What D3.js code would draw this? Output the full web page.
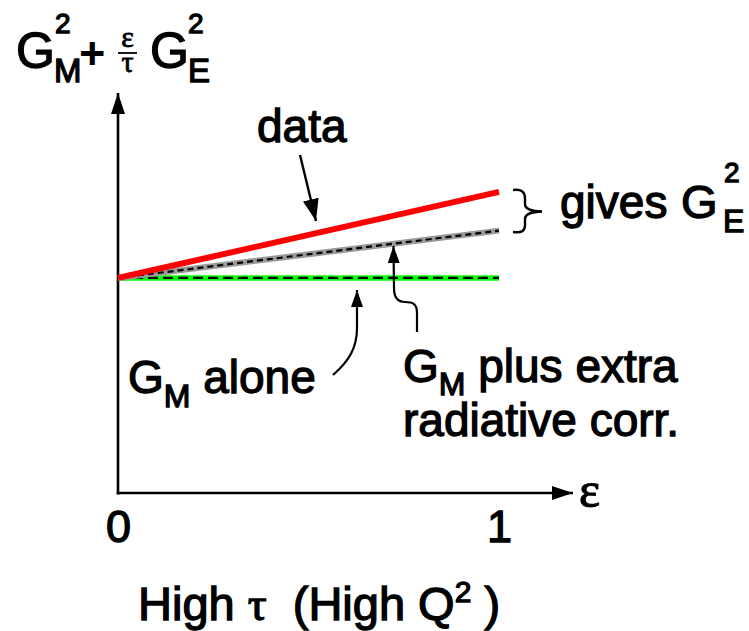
<!DOCTYPE html>
<html>
<head>
<meta charset="utf-8">
<script src="https://cdn.jsdelivr.net/npm/d3@7"></script>
<style>
  html, body { margin: 0; padding: 0; background: #fff; }
  svg { display: block; }
  .lbl { font-family: "Liberation Sans", Arial, sans-serif; font-weight: normal; fill: #000; stroke: #000; stroke-width: 1.3px; }
  .sym { font-family: "Liberation Serif", "Times New Roman", serif; fill: #000; stroke: #000; stroke-width: 0.8px; }
</style>
</head>
<body>
<svg id="chart" width="749" height="631"></svg>
<script>
// epsilon values at the two ends of each line
const eps = [0, 1];
// reduced cross section sigma_R = G_M^2 + (eps/tau) G_E^2 (arbitrary units)
const dataVals = [1.0, 1.40];     // measured: rises with epsilon
const radCorrVals = [1.0, 1.22];  // G_M plus extra radiative corrections
const gmAloneVals = [1.0, 1.0];   // G_M alone: flat
const xTicks = [0, 1];
const xTickLabels = ["0", "1"];

const svg = d3.select("#chart");
const x = d3.scaleLinear().domain([0, 1]).range([118, 499]);
const y = d3.scaleLinear().domain([0, 1.86]).range([493, 93]);

// arrowhead markers
const defs = svg.append("defs");
function marker(id, len, half) {
  defs.append("marker")
    .attr("id", id)
    .attr("markerUnits", "userSpaceOnUse")
    .attr("viewBox", `0 ${-half} ${len} ${2 * half}`)
    .attr("refX", len).attr("refY", 0)
    .attr("markerWidth", len).attr("markerHeight", 2 * half)
    .attr("orient", "auto")
    .append("path")
    .attr("d", `M0,${-half}L${len},0L0,${half}Z`)
    .attr("fill", "#000");
}
marker("axisHead", 21, 7);
marker("bigHead", 22, 8);
marker("smallHead", 17, 6);

// axes with arrows
svg.append("line")
  .attr("x1", x(0)).attr("y1", y(0) + 1.5)
  .attr("x2", x(0)).attr("y2", y(1.86))
  .attr("stroke", "#000").attr("stroke-width", 2.6)
  .attr("marker-end", "url(#axisHead)");
svg.append("line")
  .attr("x1", x(0) - 1.3).attr("y1", y(0))
  .attr("x2", 573).attr("y2", y(0))
  .attr("stroke", "#000").attr("stroke-width", 2.6)
  .attr("marker-end", "url(#axisHead)");

// tick labels on the epsilon axis
const xAxis = d3.axisBottom(x).tickValues(xTicks)
  .tickFormat((d, i) => xTickLabels[i]).tickSize(0).tickPadding(0);
const gx = svg.append("g").attr("transform", `translate(0,${y(0)})`).call(xAxis);
gx.select(".domain").remove();
gx.attr("font-family", null).attr("font-size", null);
gx.selectAll("text")
  .attr("class", "lbl")
  .style("font-size", "45px")
  .attr("fill", "#000")
  .attr("dy", null)
  .attr("y", 49);

const line = d3.line().x((d, i) => x(eps[i])).y(d => y(d));

// G_M alone: green band with black dashes
svg.append("path").datum(gmAloneVals).attr("d", line)
  .attr("fill", "none").attr("stroke", "#00ff00").attr("stroke-width", 5.5);
svg.append("path").datum(gmAloneVals).attr("d", line)
  .attr("fill", "none").attr("stroke", "#000").attr("stroke-width", 2.3)
  .attr("stroke-dasharray", "10,5");

// G_M plus radiative corrections: gray band with finer dashes
svg.append("path").datum(radCorrVals).attr("d", line)
  .attr("fill", "none").attr("stroke", "#999").attr("stroke-width", 6);
svg.append("path").datum(radCorrVals).attr("d", line)
  .attr("fill", "none").attr("stroke", "#000").attr("stroke-width", 2.2)
  .attr("stroke-dasharray", "6,4");

// data: solid red
svg.append("path").datum(dataVals).attr("d", line)
  .attr("fill", "none").attr("stroke", "#ff0000").attr("stroke-width", 6);

// callout arrows
svg.append("line")
  .attr("x1", 300).attr("y1", 155).attr("x2", 316).attr("y2", 221)
  .attr("stroke", "#000").attr("stroke-width", 2.4)
  .attr("marker-end", "url(#bigHead)");
svg.append("path")
  .attr("d", "M333,375 C349,361 357,348 357,328 L357,290")
  .attr("fill", "none").attr("stroke", "#000").attr("stroke-width", 2.2)
  .attr("marker-end", "url(#smallHead)");
svg.append("path")
  .attr("d", "M417,332 L417,313 C417,304 413,302 405,302 C397,302 394,297 394,288 L393.5,246")
  .attr("fill", "none").attr("stroke", "#000").attr("stroke-width", 2.2)
  .attr("marker-end", "url(#smallHead)");

// brace between data and corrected lines
svg.append("path")
  .attr("d", "M513,190 C522,189 525,192 525,199 L525,204 C525,209 530,211 542,211.5 C530,212 525,214 525,219 L525,225 C525,231 522,233 513,232")
  .attr("fill", "none").attr("stroke", "#000").attr("stroke-width", 2.4);

// y-axis title: G_M^2 + (eps/tau) G_E^2
const T = svg.append("g");
T.append("text").attr("class", "lbl").attr("x", 16).attr("y", 68).style("font-size", "50px").text("G");
T.append("text").attr("class", "lbl").attr("x", 54).attr("y", 82).style("font-size", "33px").text("M");
T.append("text").attr("class", "lbl").attr("x", 55).attr("y", 33).style("font-size", "28px").text("2");
T.append("text").attr("class", "lbl").attr("x", 80).attr("y", 68).style("font-size", "42px").style("stroke-width", "2px").text("+");
T.append("text").attr("class", "sym").attr("x", 127.5).attr("y", 47).attr("text-anchor", "middle").style("font-size", "30px").text("ε");
T.append("line").attr("x1", 118).attr("x2", 137).attr("y1", 53).attr("y2", 53).attr("stroke", "#000").attr("stroke-width", 1.8);
T.append("text").attr("class", "sym").attr("x", 127.5).attr("y", 72).attr("text-anchor", "middle").style("font-size", "30px").text("τ");
T.append("text").attr("class", "lbl").attr("x", 150).attr("y", 68).style("font-size", "50px").text("G");
T.append("text").attr("class", "lbl").attr("x", 188).attr("y", 82).style("font-size", "33px").text("E");
T.append("text").attr("class", "lbl").attr("x", 188).attr("y", 33).style("font-size", "28px").text("2");

// x-axis symbol
svg.append("text").attr("class", "sym").attr("x", 579).attr("y", 507).style("font-size", "50px").style("stroke-width", "1.2px").text("ε");

// series labels
svg.append("text").attr("class", "lbl").attr("x", 257).attr("y", 142).style("font-size", "46px").text("data");

const gmA = svg.append("text").attr("class", "lbl").attr("x", 128).attr("y", 393).style("font-size", "46px");
gmA.append("tspan").text("G");
gmA.append("tspan").attr("dy", 14).style("font-size", "32px").text("M");
gmA.append("tspan").attr("dy", -14).text(" alone");

const gmP = svg.append("text").attr("class", "lbl").attr("x", 403).attr("y", 382).style("font-size", "46px");
gmP.append("tspan").text("G");
gmP.append("tspan").attr("dy", 13).style("font-size", "32px").text("M");
gmP.append("tspan").attr("dy", -13).text(" plus extra");
svg.append("text").attr("class", "lbl").attr("x", 403).attr("y", 436).style("font-size", "46px").text("radiative corr.");

// brace label
svg.append("text").attr("class", "lbl").attr("x", 560).attr("y", 218).style("font-size", "46px").text("gives");
svg.append("text").attr("class", "lbl").attr("x", 681).attr("y", 218).style("font-size", "47px").text("G");
svg.append("text").attr("class", "lbl").attr("x", 723).attr("y", 232).style("font-size", "32px").text("E");
svg.append("text").attr("class", "lbl").attr("x", 724).attr("y", 182).style("font-size", "28px").text("2");

// bottom caption: High tau (High Q^2)
const cap = svg.append("text").attr("class", "lbl").attr("x", 138).attr("y", 620)
  .style("font-size", "47px");
cap.append("tspan").text("High ");
cap.append("tspan").style("font-family", '"Liberation Serif", serif').text("τ");
cap.append("tspan").text("\u00a0 (High Q");
cap.append("tspan").attr("dy", -18).style("font-size", "30px").text("2");
cap.append("tspan").attr("dy", 18).text(" )");
</script>
</body>
</html>
